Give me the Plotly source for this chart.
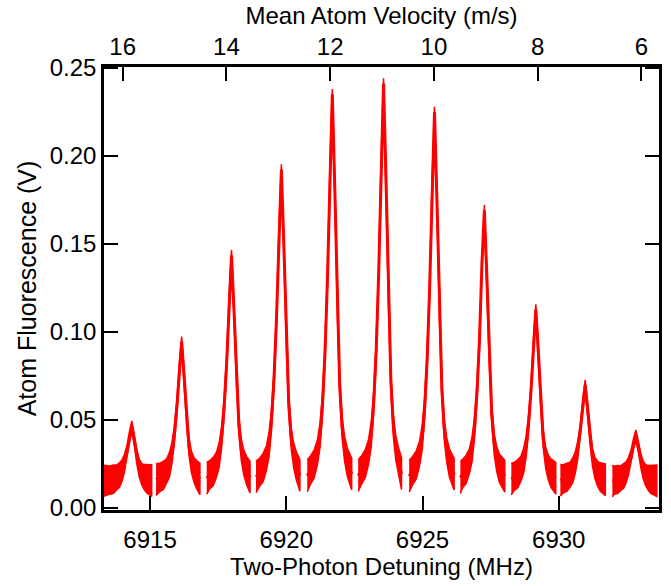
import plotly.graph_objects as go

# Two-photon detuning (MHz) for each recorded scan segment, one segment per peak
detuning_1 = [6913.25, 6913.53, 6913.66, 6913.78, 6913.88, 6913.97, 6914.06, 6914.15, 6914.24, 6914.33,
              6914.42, 6914.51, 6914.60, 6914.69, 6914.78, 6914.88, 6915.06]
detuning_2 = [6915.22, 6915.36, 6915.49, 6915.61, 6915.71, 6915.80, 6915.89, 6915.98, 6916.07, 6916.16,
              6916.25, 6916.34, 6916.43, 6916.52, 6916.61, 6916.71, 6916.83]
detuning_3 = [6917.08, 6917.19, 6917.32, 6917.44, 6917.54, 6917.63, 6917.72, 6917.81, 6917.90, 6917.99,
              6918.08, 6918.17, 6918.26, 6918.35, 6918.44, 6918.54, 6918.67]
detuning_4 = [6918.89, 6919.02, 6919.15, 6919.27, 6919.37, 6919.46, 6919.55, 6919.64, 6919.73, 6919.82,
              6919.91, 6920.00, 6920.09, 6920.18, 6920.27, 6920.37, 6920.50]
detuning_5 = [6920.77, 6920.89, 6921.02, 6921.14, 6921.24, 6921.33, 6921.42, 6921.51, 6921.60, 6921.69,
              6921.78, 6921.87, 6921.96, 6922.05, 6922.14, 6922.24, 6922.40]
detuning_6 = [6922.64, 6922.77, 6922.90, 6923.02, 6923.12, 6923.21, 6923.30, 6923.39, 6923.48, 6923.57,
              6923.66, 6923.75, 6923.84, 6923.93, 6924.02, 6924.12, 6924.23]
detuning_7 = [6924.51, 6924.64, 6924.77, 6924.89, 6924.99, 6925.08, 6925.17, 6925.26, 6925.35, 6925.44,
              6925.53, 6925.62, 6925.71, 6925.80, 6925.89, 6925.99, 6926.16]
detuning_8 = [6926.39, 6926.47, 6926.60, 6926.72, 6926.82, 6926.91, 6927.00, 6927.09, 6927.18, 6927.27,
              6927.36, 6927.45, 6927.54, 6927.63, 6927.72, 6927.82, 6928.02]
detuning_9 = [6928.26, 6928.36, 6928.49, 6928.61, 6928.71, 6928.80, 6928.89, 6928.98, 6929.07, 6929.16,
              6929.25, 6929.34, 6929.43, 6929.52, 6929.61, 6929.71, 6929.89]
detuning_10 = [6930.06, 6930.17, 6930.30, 6930.42, 6930.52, 6930.61, 6930.70, 6930.79, 6930.88, 6930.97,
               6931.06, 6931.15, 6931.24, 6931.33, 6931.42, 6931.52, 6931.71]
detuning_11 = [6931.97, 6932.03, 6932.16, 6932.28, 6932.38, 6932.47, 6932.56, 6932.65, 6932.74, 6932.83,
               6932.92, 6933.01, 6933.10, 6933.19, 6933.28, 6933.38, 6933.60]

# Atom fluorescence (V), centre of the noisy trace
signal_1 = [0.0155, 0.0159, 0.0164, 0.0174, 0.0188, 0.0213, 0.0254, 0.0314, 0.0402, 0.0465,
            0.0389, 0.0295, 0.0229, 0.0194, 0.0177, 0.0166, 0.0156]
signal_2 = [0.0162, 0.0174, 0.0186, 0.0210, 0.0245, 0.0309, 0.0412, 0.0563, 0.0785, 0.0944,
            0.0753, 0.0515, 0.0349, 0.0261, 0.0218, 0.0190, 0.0166]
signal_3 = [0.0169, 0.0189, 0.0208, 0.0247, 0.0304, 0.0407, 0.0574, 0.0819, 0.1179, 0.1436,
            0.1127, 0.0742, 0.0472, 0.0330, 0.0259, 0.0214, 0.0176]
signal_4 = [0.0177, 0.0203, 0.0230, 0.0283, 0.0363, 0.0505, 0.0735, 0.1072, 0.1568, 0.1923,
            0.1497, 0.0966, 0.0593, 0.0398, 0.0301, 0.0239, 0.0185]
signal_5 = [0.0183, 0.0216, 0.0249, 0.0315, 0.0414, 0.0590, 0.0876, 0.1295, 0.1911, 0.2351,
            0.1823, 0.1162, 0.0700, 0.0458, 0.0337, 0.0260, 0.0194]
signal_6 = [0.0184, 0.0218, 0.0252, 0.0320, 0.0421, 0.0602, 0.0896, 0.1326, 0.1960, 0.2412,
            0.1869, 0.1191, 0.0716, 0.0467, 0.0342, 0.0263, 0.0195]
signal_7 = [0.0182, 0.0213, 0.0245, 0.0308, 0.0402, 0.0570, 0.0843, 0.1242, 0.1830, 0.2250,
            0.1746, 0.1116, 0.0675, 0.0444, 0.0329, 0.0255, 0.0192]
signal_8 = [0.0173, 0.0196, 0.0219, 0.0266, 0.0335, 0.0458, 0.0659, 0.0952, 0.1384, 0.1692,
            0.1322, 0.0859, 0.0536, 0.0366, 0.0281, 0.0227, 0.0181]
signal_9 = [0.0165, 0.0179, 0.0194, 0.0223, 0.0267, 0.0346, 0.0473, 0.0659, 0.0932, 0.1128,
            0.0893, 0.0600, 0.0395, 0.0287, 0.0233, 0.0199, 0.0170]
signal_10 = [0.0158, 0.0166, 0.0175, 0.0191, 0.0216, 0.0260, 0.0331, 0.0435, 0.0588, 0.0698,
             0.0567, 0.0402, 0.0287, 0.0227, 0.0197, 0.0177, 0.0161]
signal_11 = [0.0154, 0.0158, 0.0162, 0.0170, 0.0182, 0.0203, 0.0237, 0.0287, 0.0361, 0.0414,
             0.0351, 0.0271, 0.0216, 0.0187, 0.0172, 0.0163, 0.0155]

# half width of the noise band (V) along each segment
noise_halfwidth = [0.009, 0.008, 0.008, 0.007, 0.007, 0.006, 0.005, 0.004, 0.003, 0.003,
                   0.003, 0.004, 0.005, 0.006, 0.007, 0.008, 0.009]

velocity_ticks = [16, 14, 12, 10, 8, 6]
detuning_ticks = [6915, 6920, 6925, 6930]
fluor_ticks = [0.00, 0.05, 0.10, 0.15, 0.20, 0.25]

segments = [
    (detuning_1, signal_1), (detuning_2, signal_2), (detuning_3, signal_3),
    (detuning_4, signal_4), (detuning_5, signal_5), (detuning_6, signal_6),
    (detuning_7, signal_7), (detuning_8, signal_8), (detuning_9, signal_9),
    (detuning_10, signal_10), (detuning_11, signal_11),
]

RED = "#ff0000"
FONT = "Liberation Sans, Arial, sans-serif"

fig = go.Figure()

for xs, ys in segments:
    upper = [y + w for y, w in zip(ys, noise_halfwidth)]
    lower = [y - w for y, w in zip(ys, noise_halfwidth)]
    fig.add_trace(go.Scatter(
        x=xs + xs[::-1], y=upper + lower[::-1],
        mode="lines", fill="toself", fillcolor=RED,
        line=dict(color=RED, width=1.5), hoverinfo="skip", showlegend=False))
    fig.add_trace(go.Scatter(x=xs, y=ys, mode="lines",
                             line=dict(color=RED, width=3), showlegend=False))

# dummy trace so the top velocity axis is drawn
fig.add_trace(go.Scatter(x=[velocity_ticks[0]], y=[None], xaxis="x2",
                         mode="markers", showlegend=False))

axis_common = dict(
    showgrid=False, zeroline=False, showline=True, linecolor="black", linewidth=2.5,
    ticks="inside", ticklen=14, tickwidth=2, tickcolor="black", automargin=False,
    tickfont=dict(family=FONT, size=24, color="black"),
)

fig.update_layout(
    width=671, height=586,
    margin=dict(l=104, r=12, t=67, b=76),
    paper_bgcolor="white", plot_bgcolor="white",
    font=dict(family=FONT, color="black"),
    xaxis=dict(
        **axis_common, range=[6913.31, 6933.68], tickvals=detuning_ticks, mirror=True,
        ticklabelstandoff=6,
        title=dict(text="Two-Photon Detuning (MHz)", font=dict(size=24), standoff=6),
    ),
    xaxis2=dict(
        **axis_common, overlaying="x", side="top", range=[16.36, 5.66],
        tickvals=velocity_ticks, ticklabelstandoff=0,
        title=dict(text="Mean Atom Velocity (m/s)", font=dict(size=24), standoff=2),
    ),
    yaxis=dict(
        **axis_common, range=[-0.0011, 0.2506], tickvals=fluor_ticks, tickformat=".2f",
        mirror="ticks", ticklabelstandoff=0,
        title=dict(text="Atom Fluorescence (V)", font=dict(size=25), standoff=6),
    ),
)

# drop the default page margin so the figure sits at the window origin
fig.write_html("out.html", config={"displayModeBar": False},
               post_script="document.body.style.margin='0';")
